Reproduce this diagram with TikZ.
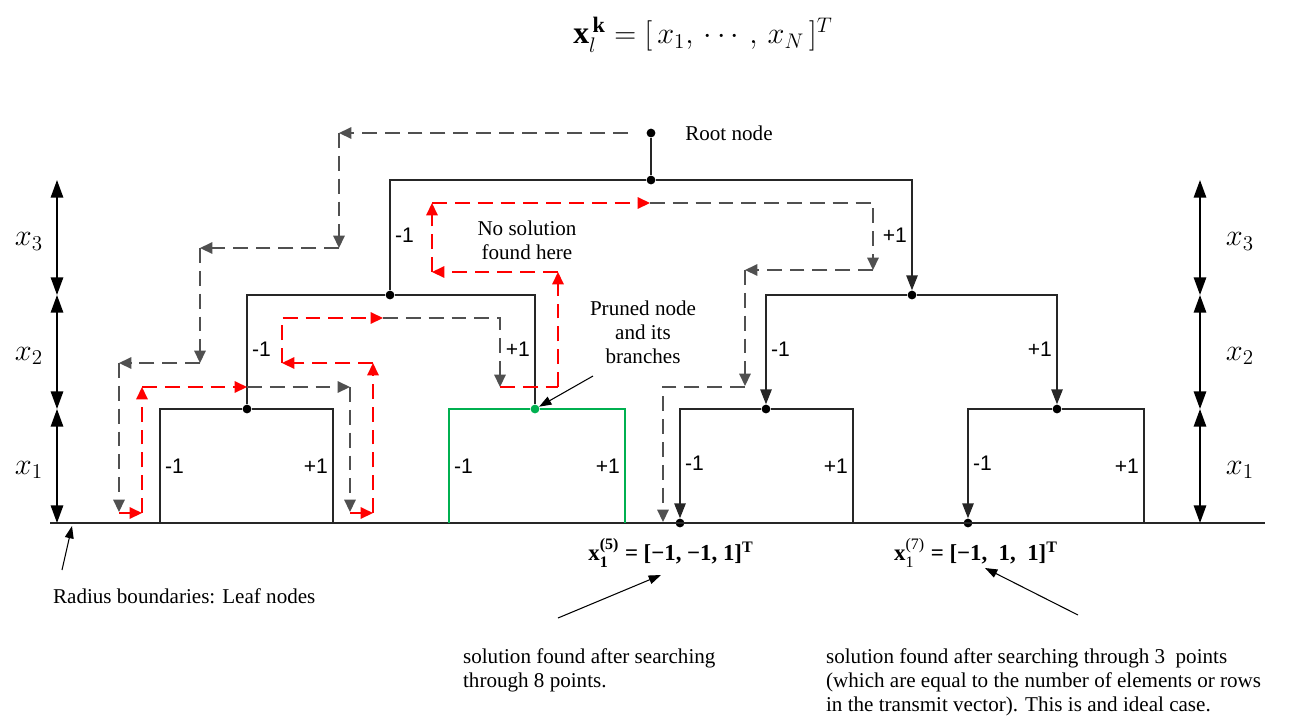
\documentclass[tikz,border=0pt]{standalone}
\usepackage{amsmath}
\usepackage{fontspec}
\setmainfont{Liberation Serif}
\setsansfont{Liberation Sans}
\usetikzlibrary{arrows.meta, positioning, calc}
\definecolor{grn}{RGB}{0,176,80}
\definecolor{bkgray}{RGB}{80,80,80}

\begin{document}
\begin{tikzpicture}[
        x=0.02cm, y=-0.02cm,
        font=\fontsize{12}{13.6}\selectfont,
        dot/.style={circle, fill=black, inner sep=0pt, minimum size=5pt},
        tree/.style={draw=black!85, line width=0.85pt},
        down/.style={tree, -{Triangle[length=8.5pt, width=6.5pt]}},
        sgn/.style={font=\sffamily\fontsize{12}{14}\selectfont, inner sep=2.5pt},
        back/.style={draw=bkgray, line width=0.85pt, dash pattern=on 8.5pt off 4.5pt,
                     -{Triangle[length=7pt, width=6.5pt]}},
        fwd/.style={back, draw=red},
        dim/.style={line width=1.1pt, {Triangle[length=10pt, width=7pt]}-{Triangle[length=10pt, width=7pt]}},
        note/.style={line width=0.6pt, -{Triangle[length=7pt, width=5pt]}},
        txt/.style={inner sep=1pt, align=center},
        xlab/.style={font=\fontsize{18}{20}\selectfont},
        sol/.style={font=\fontsize{13}{15}\selectfont},
    ]
    \useasboundingbox (0,0) rectangle (1296,718);

    % formula on top
    \node[font=\fontsize{18}{20}\selectfont] (vec) at (703,35)
        {$\mathbf{x}_{l}^{\,\mathbf{k}} = [\,x_{1},\,\cdots,\,x_{N}\,]^{T}$};

    % tree nodes
    \node[dot] (root) at (651,133) {};
    \node[dot] (n3) at (651,180) {};
    \node[dot] (n2a) at (390,295) {};
    \node[dot] (n2b) at (912,295) {};
    \node[dot] (n1a) at (247,409) {};
    \node[dot, fill=grn] (n1b) at (535,409) {};
    \node[dot] (n1c) at (766,409) {};
    \node[dot] (n1d) at (1057,409) {};
    \node[dot] (l5) at (680,523) {};
    \node[dot] (l7) at (968,523) {};
    \coordinate (l1) at (160,523);
    \coordinate (l2) at (333,523);
    \coordinate (l3) at (449,523);
    \coordinate (l4) at (625,523);
    \coordinate (l6) at (853,523);
    \coordinate (l8) at (1144,523);
    \coordinate (gw) at (50,523);
    \coordinate (ge) at (1265,523);

    % ground = leaf nodes
    \draw[tree, line width=1pt] (gw) -- (ge);

    % branches
    \draw[tree, line width=1.4pt] (root) -- (n3);
    \draw[tree] (n3) -| node[sgn, pos=0.75, right]{-1} (n2a);
    \draw[down] (n3) -| node[sgn, pos=0.75, left]{+1} (n2b);
    \draw[tree] (n2a) -| node[sgn, pos=0.75, right]{-1} (n1a);
    \draw[tree] (n2a) -| node[sgn, pos=0.75, left]{+1} (n1b);
    \draw[down] (n2b) -| node[sgn, pos=0.75, right]{-1} (n1c);
    \draw[down] (n2b) -| node[sgn, pos=0.75, left]{+1} (n1d);
    \draw[tree] (n1a) -| node[sgn, pos=0.75, right]{-1} (l1);
    \draw[tree] (n1a) -| node[sgn, pos=0.75, left]{+1} (l2);
    \draw[tree, draw=grn] (n1b) -| node[sgn, pos=0.75, right]{-1} (l3);
    \draw[tree, draw=grn] (n1b) -| node[sgn, pos=0.75, left]{+1} (l4);
    \draw[down] (n1c) -| node[sgn, pos=0.75, right]{-1} (l5);
    \draw[tree] (n1c) -| node[sgn, pos=0.75, left]{+1} (l6);
    \draw[down] (n1d) -| node[sgn, pos=0.75, right]{-1} (l7);
    \draw[tree] (n1d) -| node[sgn, pos=0.75, left]{+1} (l8);

    % level markers
    \foreach \ya/\yb/\k in {180/295/3, 295/409/2, 409/523/1} {
        \coordinate (la\k) at (57,\ya);
        \coordinate (lb\k) at (57,\yb);
        \coordinate (ra\k) at (1200,\ya);
        \coordinate (rb\k) at (1200,\yb);
        \draw[dim] (la\k) -- (lb\k);
        \draw[dim] (ra\k) -- (rb\k);
        \node[xlab] at ($(la\k)!0.5!(lb\k) + (-28,4)$) {$x_{\k}$};
        \node[xlab] at ($(ra\k)!0.5!(rb\k) + (40,4)$) {$x_{\k}$};
    }

    % depth-first search: backtracking (gray) and forward moves (red)
    \draw[back] (628,133) -- (339,133);
    \draw[back] (339,133) -- (339,248);
    \draw[back] (339,248) -- (200,248);
    \draw[back] (200,248) -- (200,363);
    \draw[back] (200,363) -- (119,363);
    \draw[back] (119,363) -- (119,512);
    \draw[fwd] (119,513) -- (142,513);
    \draw[fwd] (142,513) -- (142,387);
    \draw[fwd] (142,387) -- (247,387);
    \draw[back] (247,387) -- (350,387);
    \draw[back] (350,387) -- (350,512);
    \draw[fwd] (350,513) -- (373,513);
    \draw[fwd] (373,513) -- (373,363);
    \draw[fwd] (373,363) -- (282,363);
    \draw[fwd] (282,363) -- (282,318) -- (383,318);
    \draw[back] (383,318) -- (500,318) -- (500,387);
    \draw[fwd, -] (500,387) -- (558,387);
    \draw[fwd] (558,387) -- (558,272);
    \draw[fwd] (558,272) -- (432,272);
    \draw[fwd] (432,272) -- (432,203);
    \draw[fwd] (432,203) -- (650,203);
    \draw[back] (650,203) -- (873,203) -- (873,270);
    \draw[back] (873,270) -- (745,270);
    \draw[back] (745,270) -- (745,386);
    \draw[back] (745,387) -- (663,387) -- (663,522);

    % labels
    \node[txt, right=5.5mm of root] (rootlbl) {Root node};
    \node[txt] (nosol) at (527,240) {No solution\\found here};
    \node[txt] (pruned) at (643,332) {Pruned node\\and its\\branches};
    \node[txt, anchor=west] (radius) at (51,596) {Radius boundaries: Leaf nodes};
    \node[sol] (sol5) at (671,553)
        {\bfseries x$_{\text{1}}^{\text{(5)}}$ = [−1, −1, 1]$^{\text{T}}$};
    \node[sol] (sol7) at (976,553)
        {\textbf{x}$_{\text{1}}^{\text{(7)}}$ \textbf{= [−1,\ \ 1,\ \ 1]}$^{\textbf{T}}$};
    \node[txt, anchor=north west, align=left] (note8) at (461,647)
        {solution found after searching\\through 8 points.};
    \node[txt, anchor=north west, align=left] (note3) at (824,647)
        {solution found after searching through 3~~points\\
         (which are equal to the number of elements or rows\\
         in the transmit vector). This is and ideal case.};

    % pointers
    \coordinate (ptail) at (593,376);
    \coordinate (rtail) at (62,570);
    \coordinate (rtip) at (72,526);
    \coordinate (a5tail) at (558,618);
    \coordinate (a5tip) at (661,575);
    \coordinate (a7tail) at (1078,615);
    \coordinate (a7tip) at (985,568);
    \draw[note] (ptail) -- (n1b);
    \draw[note] (rtail) -- (rtip);
    \draw[note] (a5tail) -- (a5tip);
    \draw[note] (a7tail) -- (a7tip);
\end{tikzpicture}
\end{document}
